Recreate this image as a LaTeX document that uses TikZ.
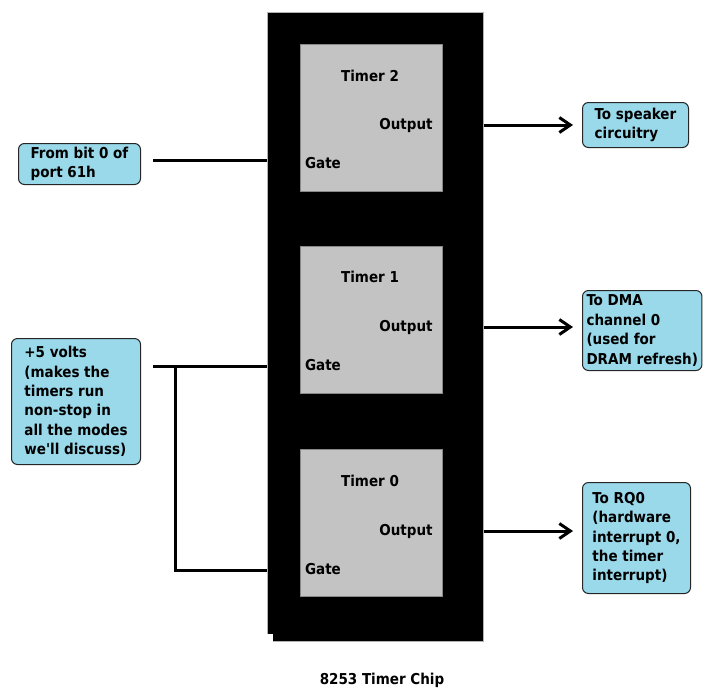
\documentclass[tikz,border=0pt]{standalone}
\usepackage{fontspec}
\setmainfont{DejaVu Sans Condensed}[BoldFont={DejaVu Sans Condensed Bold}, Ligatures=TeXOff]
\usetikzlibrary{arrows.meta}
\definecolor{boxfill}{HTML}{99D9EA}
\definecolor{timergray}{HTML}{C3C3C3}
\tikzset{
  lbl/.style={font=\bfseries\fontsize{15}{19.4}\selectfont, inner sep=0pt},
  infobox/.style={draw=black!85, line width=1pt, fill=boxfill, rounded corners=6pt,
    anchor=north west, align=left, inner xsep=4pt, inner ysep=2pt,
    font=\bfseries\fontsize{15}{19.4}\selectfont},
  timerbox/.style={fill=timergray, draw=timergray!70!black, line width=0.5pt, anchor=north west, minimum width=142pt, minimum height=147pt, inner sep=0pt},
  wire/.style={line width=3pt},
  arr/.style={line width=3pt, -{Straight Barb[length=11pt, width=15pt, line width=3pt]}},
}
\begin{document}
\begin{tikzpicture}[x=1pt, y=-1pt]
\useasboundingbox (0,0) rectangle (712,691);
% chip
\node[fill=black, draw=black!30, line width=0.6pt, anchor=north west, minimum width=216pt, minimum height=629pt, inner sep=0pt] (chip) at (267,12) {};
\fill[white] (266,634) rectangle (273,642);
% timers
\node[timerbox] (t2) at (300,44) {};
\node[timerbox] (t1) at (300,246) {};
\node[timerbox] (t0) at (300,449) {};
\node[lbl] (t2name) at (370,76) {Timer 2};
\node[lbl] (t2out) at (406,125) {Output};
\node[lbl] (t2gate) at (323,163) {Gate};
\node[lbl] (t1name) at (370,277) {Timer 1};
\node[lbl] (t1out) at (406,327) {Output};
\node[lbl] (t1gate) at (323,365) {Gate};
\node[lbl] (t0name) at (370,481) {Timer 0};
\node[lbl] (t0out) at (406,531) {Output};
\node[lbl] (t0gate) at (323,569) {Gate};
% info boxes
\node[infobox, minimum width=122pt, minimum height=41pt] (bit0) at (18,143) {From bit 0 of\\port 61h};
\node[infobox, minimum width=129pt, minimum height=126pt] (volts) at (11,338) {+5 volts\\(makes the\\timers run\\non-stop in\\all the modes\\we'll discuss)};
\node[infobox, minimum width=106pt, minimum height=45pt] (spk) at (582,102) {To speaker\\circuitry};
\node[infobox, minimum width=118pt, minimum height=80pt] (dma) at (582,290) {To DMA\\channel 0\\(used for\\DRAM refresh)};
\node[infobox, minimum width=108pt, minimum height=111pt] (rq) at (582,482) {To RQ0\\(hardware\\interrupt 0,\\the timer\\interrupt)};
% caption
\node[lbl] (cap) at (382,680) {8253 Timer Chip};
% wires
\coordinate (g2) at (153,160);
\coordinate (vj) at (153,366);
\coordinate (vc) at (175,366);
\coordinate (vb) at (175,570);
\draw[wire] (g2) -- (chip.west |- g2);
\draw[wire] (vj) -- (chip.west |- vj);
\draw[wire] (vc) -- (vb) -- (chip.west |- vb);
% outputs
\draw[arr, shorten >=9pt] (chip.east |- t2out) -- (spk.west |- t2out);
\draw[arr, shorten >=9pt] (chip.east |- t1out) -- (dma.west |- t1out);
\draw[arr, shorten >=9pt] (chip.east |- t0out) -- (rq.west |- t0out);
\end{tikzpicture}
\end{document}
